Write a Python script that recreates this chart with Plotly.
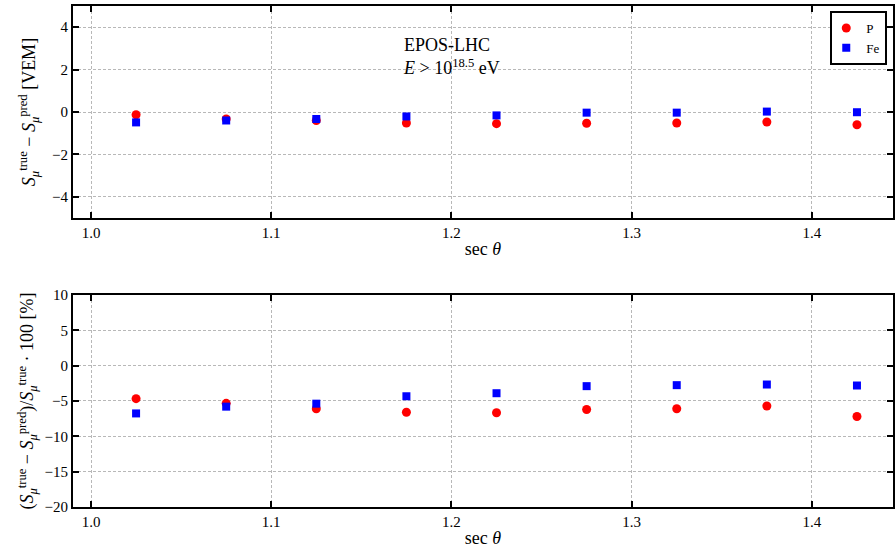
import plotly.graph_objects as go
from plotly.subplots import make_subplots

sec_theta = [1.025, 1.075, 1.125, 1.175, 1.225, 1.275, 1.325, 1.375, 1.425]

# top panel: S_true - S_pred [VEM]
p_abs = [-0.13, -0.33, -0.40, -0.52, -0.55, -0.53, -0.52, -0.47, -0.60]
fe_abs = [-0.49, -0.40, -0.33, -0.21, -0.16, -0.03, -0.03, 0.02, -0.01]
p_abs_err = [0.04] * 9
fe_abs_err = [0.04] * 9

# bottom panel: relative difference [%]
p_rel = [-4.67, -5.33, -6.1, -6.6, -6.67, -6.2, -6.1, -5.71, -7.19]
fe_rel = [-6.76, -5.8, -5.38, -4.33, -3.9, -2.9, -2.76, -2.67, -2.81]
p_rel_err = [0.25] * 9
fe_rel_err = [0.25] * 9

x_ticks = [1.0, 1.1, 1.2, 1.3, 1.4]
y1_ticks = [-4, -2, 0, 2, 4]
y2_ticks = [-20, -15, -10, -5, 0, 5, 10]

FONT = "Liberation Serif"
RED = "#ff0000"
BLUE = "#0000ff"

fig = make_subplots(rows=2, cols=1, vertical_spacing=0.1536)

fig.add_trace(go.Scatter(x=sec_theta, y=p_abs, mode="markers", name="P",
                         marker=dict(symbol="circle", size=9, color=RED),
                         error_y=dict(type="data", array=p_abs_err, color=RED, thickness=2, width=0),
                         legendgroup="P"), row=1, col=1)
fig.add_trace(go.Scatter(x=sec_theta, y=fe_abs, mode="markers", name="Fe",
                         marker=dict(symbol="square", size=8, color=BLUE),
                         error_y=dict(type="data", array=fe_abs_err, color=BLUE, thickness=2, width=0),
                         legendgroup="Fe"), row=1, col=1)
fig.add_trace(go.Scatter(x=sec_theta, y=p_rel, mode="markers", name="P",
                         marker=dict(symbol="circle", size=9, color=RED),
                         error_y=dict(type="data", array=p_rel_err, color=RED, thickness=2, width=0),
                         legendgroup="P", showlegend=False), row=2, col=1)
fig.add_trace(go.Scatter(x=sec_theta, y=fe_rel, mode="markers", name="Fe",
                         marker=dict(symbol="square", size=8, color=BLUE),
                         error_y=dict(type="data", array=fe_rel_err, color=BLUE, thickness=2, width=0),
                         legendgroup="Fe", showlegend=False), row=2, col=1)

axis_common = dict(
    showline=True, linecolor="black", linewidth=2, mirror="ticks",
    ticks="inside", ticklen=6, tickwidth=1.5, tickcolor="black",
    showgrid=True, gridcolor="#b8b8b8", griddash="3px,2px", gridwidth=1,
    zeroline=False, tickfont=dict(family=FONT, size=15, color="black"),
    automargin=False,
)

xtitle = dict(text="sec <i>θ</i>", font=dict(family=FONT, size=18, color="black"), standoff=2)
fig.update_xaxes(**axis_common, range=[0.99, 1.445], tickvals=x_ticks,
                 ticktext=[f"{v:.1f}" for v in x_ticks], title=xtitle)
fig.update_yaxes(**axis_common)

fig.update_yaxes(row=1, col=1, range=[-5, 5], tickvals=y1_ticks,
                 title=dict(text="<i>S</i><sub><i>μ</i></sub><sup>true</sup> − <i>S</i><sub><i>μ</i></sub><sup>pred</sup> [VEM]",
                            font=dict(family=FONT, size=18, color="black"), standoff=12))
fig.update_yaxes(row=2, col=1, range=[-20, 10], tickvals=y2_ticks,
                 title=dict(text="(<i>S</i><sub><i>μ</i></sub><sup>true</sup> − <i>S</i><sub><i>μ</i></sub><sup>pred</sup>)/<i>S</i><sub><i>μ</i></sub><sup>true</sup> · 100 [%]",
                            font=dict(family=FONT, size=18, color="black"), standoff=6))

fig.update_layout(
    width=896, height=556,
    margin=dict(l=73, r=3, t=6, b=49, autoexpand=False),
    paper_bgcolor="white", plot_bgcolor="white",
    font=dict(family=FONT, color="black"),
    yaxis=dict(domain=[0.5768, 1.0]),
    yaxis2=dict(domain=[0.0, 0.4232]),
    legend=dict(x=0.993, y=0.99, xanchor="right", yanchor="top",
                bordercolor="black", borderwidth=2, bgcolor="white",
                font=dict(family=FONT, size=13, color="black"),
                itemwidth=30, tracegroupgap=0, indentation=-6),
    showlegend=True,
)

fig.add_annotation(xref="x domain", yref="y domain", x=0.4, y=0.875,
                   xanchor="left", yanchor="top", align="left", showarrow=False,
                   text="EPOS-LHC<br><i>E</i> > 10<sup>18.5</sup> eV",
                   font=dict(family=FONT, size=18, color="black"))

fig.write_html("out.html", config={"displayModeBar": False},
               post_script="document.body.style.margin='0';document.body.style.overflow='hidden';")
